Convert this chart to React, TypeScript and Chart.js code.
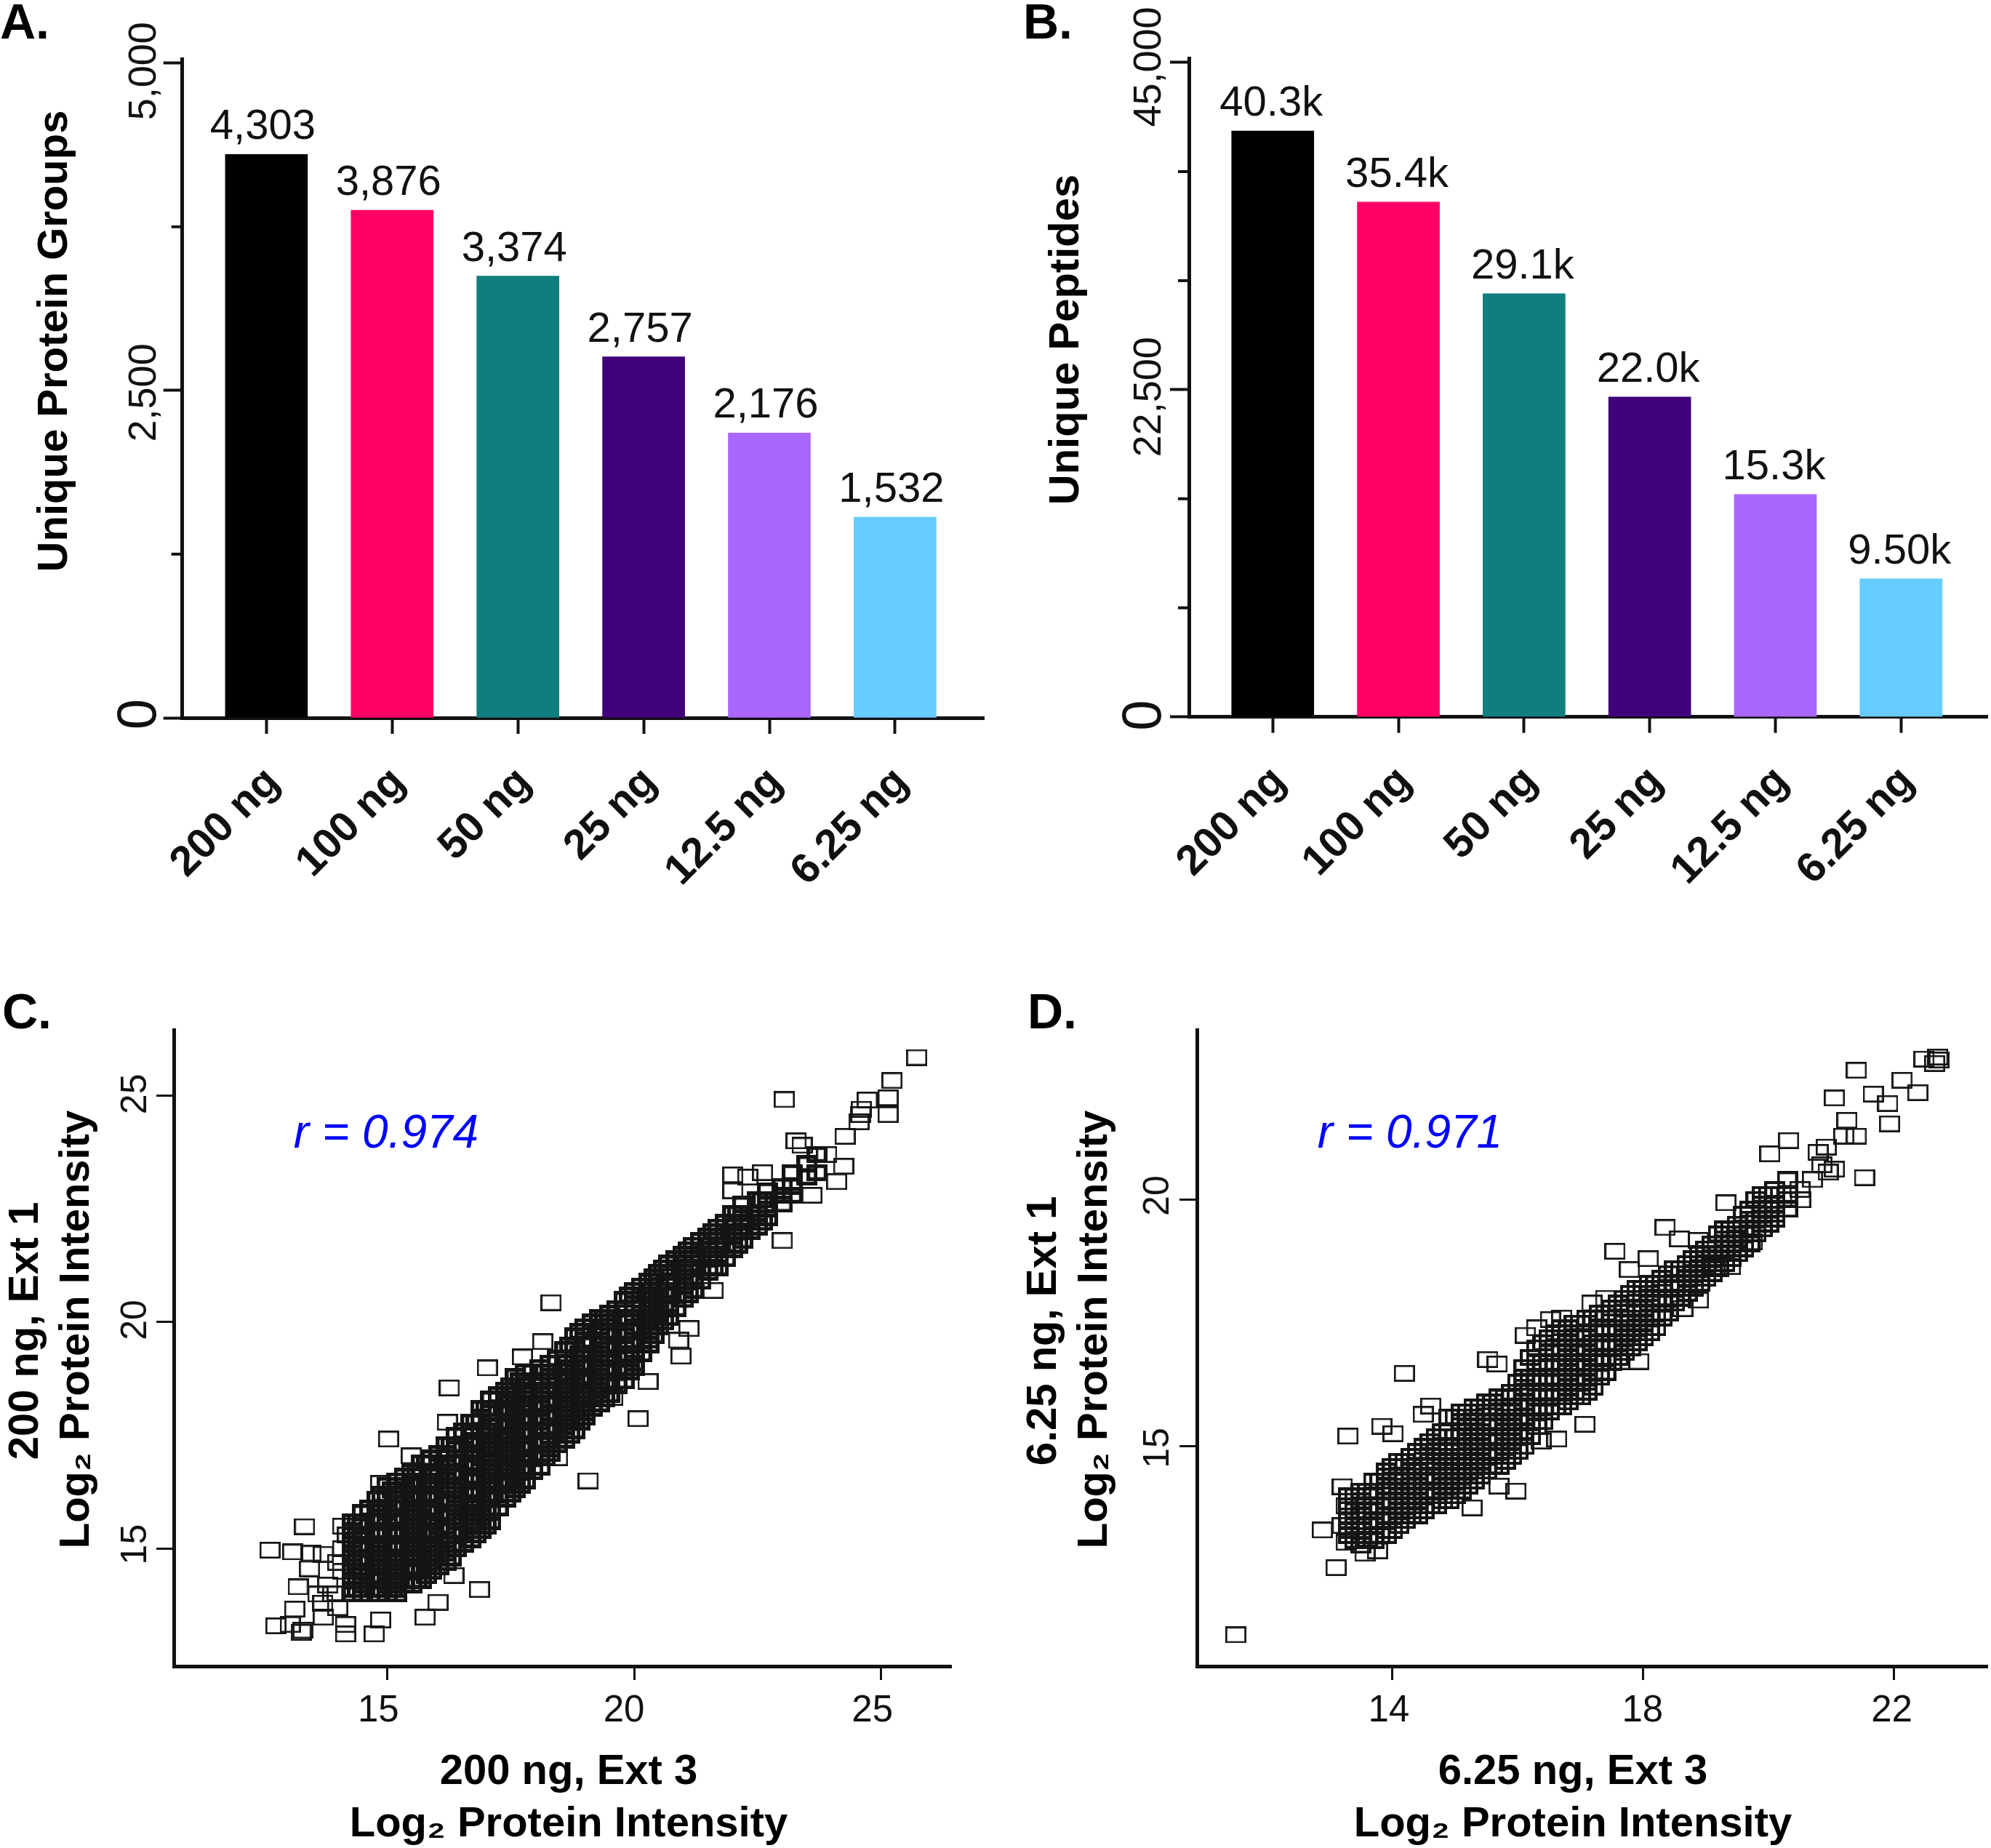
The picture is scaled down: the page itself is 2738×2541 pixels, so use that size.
import React, { useEffect, useRef } from "react";
import { Chart, registerables } from "chart.js";

Chart.register(...registerables);

const FONT = '"Liberation Sans"';
const INK = "#111111";

const doseLabels = ["200 ng", "100 ng", "50 ng", "25 ng", "12.5 ng", "6.25 ng"];
const doseColors = ["#000000", "#ff0066", "#107e7e", "#400078", "#aa66ff", "#66ccff"];

const proteinGroups = [4303, 3876, 3374, 2757, 2176, 1532];
const proteinGroupLabels = ["4,303", "3,876", "3,374", "2,757", "2,176", "1,532"];
const proteinTicks = [0, 2500, 5000];
const proteinMinorTicks = [1250, 3750];

const peptides = [40300, 35400, 29100, 22000, 15300, 9500];
const peptideLabels = ["40.3k", "35.4k", "29.1k", "22.0k", "15.3k", "9.50k"];
const peptideTicks = [0, 22500, 45000];
const peptideMinorTicks = [7500, 15000, 30000, 37500];

const cXTicks = [15, 20, 25];
const cYTicks = [15, 20, 25];
const dXTicks = [14, 18, 22];
const dYTicks = [15, 20];

// Panel C: isolated squares read one by one
const cOutliers: [number, number][] = [
  [25.72, 25.84], [25.22, 25.33], [23.04, 24.91], [25.14, 24.95], [25.14, 24.58], [24.72, 24.9], [24.59, 24.58],
  [24.55, 24.42], [24.27, 24.1], [23.28, 24.0], [24.24, 23.44], [24.6, 24.7], [23.4, 23.9], [23.9, 23.7],
  [12.63, 14.97], [13.09, 14.93], [13.33, 15.49], [13.46, 14.9], [13.71, 14.88], [13.43, 14.56], [13.2, 14.16],
  [13.13, 13.67], [12.75, 13.3], [13.04, 13.33], [13.26, 13.16], [14.16, 13.12], [14.74, 13.12], [14.87, 13.43],
  [14.16, 13.33], [13.71, 13.49], [15.77, 13.49], [16.03, 13.82], [16.87, 14.1], [16.35, 14.41], [13.3, 13.2],
  [15.03, 17.42], [15.49, 17.05], [16.26, 18.55], [17.03, 18.99], [18.32, 20.43], [18.15, 19.57], [17.74, 19.23],
  [16.22, 17.79], [14.87, 16.44], [19.07, 16.5], [20.08, 17.87], [20.95, 19.25], [21.11, 19.86], [20.28, 18.69],
  [18.45, 17.01], [19.57, 18.34], [23.0, 21.8], [22.0, 23.25], [22.3, 23.2], [22.6, 23.3], [22.0, 22.9],
  [13.6, 14.0], [13.7, 13.8], [13.9, 14.0], [13.8, 14.2], [14.0, 13.7], [14.1, 14.5], [14.1, 15.0], [14.0, 14.7],
  [14.2, 15.3], [14.1, 15.5], [20.9, 19.6], [21.6, 20.7], [23.6, 22.8], [24.1, 23.1],
];

// Panel C: the solid band, where single squares cannot be told apart, estimated per column
const cBand: [number, number[]][] = [
  [14.3, [14.0, 14.1, 14.3, 14.5, 14.6, 14.8, 14.9, 15.1, 15.2, 15.4, 15.6]],
  [14.5, [14.0, 14.2, 14.3, 14.5, 14.7, 14.8, 15.0, 15.1, 15.3, 15.5, 15.6, 15.8]],
  [14.8, [14.0, 14.1, 14.3, 14.4, 14.6, 14.8, 14.9, 15.1, 15.3, 15.4, 15.6, 15.7, 15.9, 16.1]],
  [15.0, [14.0, 14.2, 14.3, 14.5, 14.7, 14.8, 15.0, 15.1, 15.3, 15.4, 15.6, 15.8, 15.9, 16.1, 16.2, 16.4]],
  [15.2, [14.0, 14.1, 14.3, 14.5, 14.6, 14.8, 15.0, 15.1, 15.3, 15.4, 15.6, 15.7, 15.9, 16.0, 16.2, 16.4, 16.5]],
  [15.5, [14.2, 14.3, 14.5, 14.6, 14.8, 15.0, 15.1, 15.3, 15.4, 15.6, 15.8, 15.9, 16.1, 16.2, 16.4, 16.5, 16.7]],
  [15.7, [14.3, 14.5, 14.6, 14.8, 14.9, 15.1, 15.3, 15.4, 15.6, 15.7, 15.9, 16.1, 16.2, 16.4, 16.5, 16.7, 16.9]],
  [15.9, [14.5, 14.6, 14.8, 15.0, 15.1, 15.3, 15.4, 15.6, 15.8, 15.9, 16.1, 16.2, 16.4, 16.6, 16.7, 16.9, 17.0]],
  [16.2, [14.7, 14.9, 15.0, 15.2, 15.4, 15.5, 15.7, 15.8, 16.0, 16.1, 16.3, 16.5, 16.6, 16.8, 16.9, 17.1, 17.3]],
  [16.4, [15.0, 15.1, 15.3, 15.4, 15.6, 15.8, 15.9, 16.1, 16.2, 16.4, 16.6, 16.7, 16.9, 17.0, 17.2, 17.3, 17.5]],
  [16.7, [15.2, 15.3, 15.5, 15.7, 15.8, 16.0, 16.2, 16.3, 16.5, 16.6, 16.8, 16.9, 17.1, 17.3, 17.4, 17.6, 17.8]],
  [16.9, [15.4, 15.5, 15.7, 15.8, 16.0, 16.2, 16.3, 16.5, 16.6, 16.8, 17.0, 17.1, 17.3, 17.4, 17.6, 17.8, 17.9, 18.1]],
  [17.1, [15.6, 15.8, 15.9, 16.1, 16.2, 16.4, 16.6, 16.7, 16.9, 17.0, 17.2, 17.4, 17.5, 17.7, 17.8, 18.0, 18.1, 18.3]],
  [17.4, [16.1, 16.2, 16.4, 16.5, 16.7, 16.9, 17.0, 17.2, 17.3, 17.5, 17.7, 17.8, 18.0, 18.1, 18.3, 18.5]],
  [17.6, [16.3, 16.4, 16.6, 16.8, 16.9, 17.1, 17.2, 17.4, 17.6, 17.7, 17.9, 18.0, 18.2, 18.4, 18.5, 18.8]],
  [17.8, [16.5, 16.7, 16.8, 17.0, 17.2, 17.3, 17.5, 17.6, 17.8, 17.9, 18.1, 18.3, 18.4, 18.6, 18.7, 18.9]],
  [18.1, [16.8, 17.0, 17.1, 17.3, 17.4, 17.6, 17.8, 17.9, 18.1, 18.2, 18.4, 18.6, 18.7, 19.0]],
  [18.3, [17.1, 17.2, 17.4, 17.6, 17.7, 17.9, 18.0, 18.2, 18.3, 18.5, 18.7, 18.8, 19.1]],
  [18.6, [17.4, 17.5, 17.7, 17.8, 18.0, 18.2, 18.3, 18.5, 18.6, 18.8, 19.0, 19.1, 19.4]],
  [18.8, [17.6, 17.8, 17.9, 18.1, 18.2, 18.4, 18.6, 18.7, 18.9, 19.0, 19.2, 19.4, 19.5, 19.7]],
  [19.0, [17.9, 18.0, 18.2, 18.3, 18.5, 18.7, 18.8, 19.0, 19.1, 19.3, 19.5, 19.6, 19.9]],
  [19.3, [18.2, 18.3, 18.5, 18.7, 18.8, 19.0, 19.1, 19.3, 19.4, 19.6, 19.8, 19.9, 20.1]],
  [19.5, [18.4, 18.6, 18.7, 18.9, 19.0, 19.2, 19.4, 19.5, 19.7, 19.8, 20.0, 20.2]],
  [19.8, [18.7, 18.9, 19.0, 19.2, 19.3, 19.5, 19.7, 19.8, 20.0, 20.1, 20.3, 20.5]],
  [20.0, [19.0, 19.1, 19.3, 19.5, 19.6, 19.8, 19.9, 20.1, 20.3, 20.4, 20.7]],
  [20.3, [19.5, 19.6, 19.8, 20.0, 20.1, 20.3, 20.4, 20.6, 20.7, 20.9]],
  [20.5, [19.9, 20.0, 20.2, 20.3, 20.5, 20.7, 20.8, 21.1]],
  [20.7, [20.1, 20.3, 20.4, 20.6, 20.7, 20.9, 21.1, 21.3]],
  [21.0, [20.5, 20.6, 20.8, 21.0, 21.1, 21.3, 21.5]],
  [21.2, [20.7, 20.9, 21.0, 21.2, 21.4, 21.5, 21.7]],
  [21.5, [21.1, 21.2, 21.4, 21.6, 21.7, 21.9]],
  [21.7, [21.2, 21.4, 21.6, 21.7, 21.9, 22.1]],
  [22.0, [21.6, 21.7, 21.9, 22.1, 22.2, 22.4]],
  [22.2, [21.8, 22.0, 22.2, 22.3, 22.6]],
  [22.5, [22.1, 22.3, 22.4, 22.7]],
  [22.7, [22.3, 22.5, 22.6, 22.9]],
  [23.0, [22.6, 22.8, 23.0]],
  [23.2, [22.8, 23.0, 23.3]],
  [23.5, [23.2, 23.5]],
  [23.7, [23.3, 23.7]],
  [14.4, [14.1, 14.4, 14.7, 15.0, 15.3, 15.6]],
  [14.65, [14.1, 14.4, 14.7, 15.0, 15.3, 15.6, 15.9]],
  [14.9, [14.1, 14.4, 14.7, 15.0, 15.3, 15.6, 15.9, 16.2]],
  [15.1, [14.1, 14.4, 14.7, 15.0, 15.3, 15.6, 15.9, 16.3]],
  [15.35, [14.2, 14.5, 14.8, 15.1, 15.4, 15.7, 16.0, 16.3, 16.6]],
  [15.6, [14.3, 14.6, 14.9, 15.2, 15.5, 15.8, 16.1, 16.4, 16.7]],
  [15.8, [14.4, 14.7, 15.0, 15.3, 15.6, 15.9, 16.2, 16.5, 16.9]],
  [16.05, [14.6, 14.9, 15.2, 15.5, 15.8, 16.1, 16.4, 16.7, 17.1]],
  [16.3, [14.8, 15.1, 15.4, 15.7, 16.0, 16.3, 16.6, 16.9, 17.3]],
  [16.55, [15.1, 15.4, 15.7, 16.0, 16.3, 16.6, 16.9, 17.2, 17.6]],
  [16.8, [15.3, 15.6, 15.9, 16.2, 16.5, 16.8, 17.1, 17.4, 17.8]],
  [17.0, [15.5, 15.8, 16.1, 16.4, 16.7, 17.0, 17.3, 17.6, 18.1]],
  [17.25, [15.9, 16.2, 16.5, 16.8, 17.1, 17.4, 17.7, 18.0, 18.4]],
  [17.5, [16.2, 16.5, 16.8, 17.1, 17.4, 17.7, 18.0, 18.3, 18.6]],
  [17.7, [16.4, 16.7, 17.0, 17.3, 17.6, 17.9, 18.2, 18.7]],
  [17.95, [16.7, 17.0, 17.3, 17.6, 17.9, 18.2, 18.5, 18.9]],
  [18.2, [17.0, 17.3, 17.6, 17.9, 18.2, 18.5, 18.9]],
  [18.45, [17.3, 17.6, 17.9, 18.2, 18.5, 18.8, 19.2]],
  [18.7, [17.5, 17.8, 18.1, 18.4, 18.7, 19.0, 19.5]],
  [18.9, [17.8, 18.1, 18.4, 18.7, 19.0, 19.3, 19.8]],
  [19.15, [18.1, 18.4, 18.7, 19.0, 19.3, 19.6, 20.0]],
  [19.4, [18.3, 18.6, 18.9, 19.2, 19.5, 19.8, 20.1]],
  [19.65, [18.6, 18.9, 19.2, 19.5, 19.8, 20.3]],
  [19.9, [18.9, 19.2, 19.5, 19.8, 20.1, 20.6]],
  [20.15, [19.3, 19.6, 19.9, 20.2, 20.8]],
  [20.4, [19.7, 20.0, 20.3, 20.6, 21.0]],
  [20.6, [20.0, 20.3, 20.6, 21.2]],
  [20.85, [20.3, 20.6, 20.9, 21.4]],
  [21.1, [20.6, 20.9, 21.2, 21.6]],
  [21.35, [20.9, 21.2, 21.5, 21.8]],
  [21.6, [21.2, 21.5, 22.0]],
  [21.85, [21.4, 21.7, 22.2]],
  [22.1, [21.7, 22.0, 22.4]],
  [22.35, [22.0, 22.4]],
  [22.6, [22.2, 22.7]],
];

// Panel D: isolated squares read one by one
const dOutliers: [number, number][] = [
  [11.5, 11.19], [13.1, 12.55], [12.88, 13.31], [13.29, 15.21], [14.19, 16.48], [13.83, 15.41], [14.01, 15.26],
  [13.2, 14.19], [13.26, 13.8], [13.2, 13.4], [13.26, 13.06], [13.56, 12.84], [13.76, 12.89], [15.97, 14.1],
  [15.27, 13.76], [17.07, 15.45], [16.62, 15.15], [16.37, 15.11], [14.49, 15.65], [14.61, 15.82], [15.52, 16.76],
  [15.67, 16.67], [16.12, 17.25], [16.52, 17.57], [17.18, 17.9], [17.55, 18.95], [18.08, 18.8], [17.78, 18.58],
  [18.35, 19.43], [18.58, 19.2], [18.88, 19.17], [19.32, 19.93], [18.88, 17.96], [18.63, 17.79], [17.93, 16.72],
  [17.63, 16.72], [19.14, 18.64], [19.39, 18.64], [19.74, 19.14], [20.02, 20.92], [20.32, 21.19], [20.79, 20.95],
  [20.92, 21.06], [21.05, 20.61], [21.53, 20.44], [20.51, 19.99], [20.85, 20.7], [20.95, 20.55], [21.25, 21.6],
  [21.4, 21.28], [21.2, 21.28], [21.05, 22.05], [21.4, 22.61], [21.67, 22.13], [21.9, 21.94], [21.93, 21.53],
  [22.13, 22.41], [22.38, 22.16], [22.48, 22.84], [22.7, 22.88], [22.65, 22.75], [22.72, 22.82], [20.5, 20.2],
  [20.7, 20.4], [16.0, 15.0], [15.7, 14.2], [16.3, 17.4], [16.7, 17.6], [17.4, 18.0],
];

// Panel D: the solid band, where single squares cannot be told apart, estimated per column
const dBand: [number, number[]][] = [
  [13.3, [13.2, 13.3, 13.5, 13.6, 13.8, 14.0]],
  [13.5, [13.0, 13.2, 13.3, 13.4, 13.6, 13.8, 13.9, 14.1]],
  [13.7, [13.1, 13.2, 13.4, 13.5, 13.7, 13.8, 14.0, 14.1, 14.3]],
  [13.9, [13.2, 13.3, 13.5, 13.6, 13.8, 13.9, 14.1, 14.2, 14.4, 14.5]],
  [14.1, [13.4, 13.5, 13.7, 13.8, 14.0, 14.1, 14.3, 14.4, 14.6, 14.7]],
  [14.3, [13.6, 13.7, 13.9, 14.0, 14.2, 14.3, 14.5, 14.6, 14.8]],
  [14.5, [13.7, 13.8, 14.0, 14.1, 14.3, 14.4, 14.6, 14.8, 15.0]],
  [14.7, [13.8, 14.0, 14.1, 14.3, 14.4, 14.6, 14.7, 14.9, 15.0, 15.2]],
  [14.9, [13.9, 14.1, 14.2, 14.4, 14.5, 14.7, 14.8, 15.0, 15.2, 15.3, 15.6]],
  [15.1, [14.1, 14.2, 14.4, 14.5, 14.7, 14.9, 15.0, 15.2, 15.3, 15.5, 15.7]],
  [15.3, [14.3, 14.4, 14.6, 14.7, 14.9, 15.0, 15.2, 15.3, 15.5, 15.6, 15.8]],
  [15.5, [14.5, 14.6, 14.8, 14.9, 15.1, 15.2, 15.4, 15.5, 15.7, 15.9]],
  [15.7, [14.6, 14.8, 14.9, 15.1, 15.2, 15.4, 15.5, 15.7, 15.8, 16.0]],
  [15.9, [14.8, 14.9, 15.1, 15.2, 15.4, 15.5, 15.7, 15.8, 16.0, 16.1]],
  [16.1, [15.0, 15.2, 15.3, 15.5, 15.6, 15.8, 15.9, 16.1, 16.2, 16.4, 16.6]],
  [16.3, [15.4, 15.5, 15.7, 15.8, 16.0, 16.1, 16.3, 16.4, 16.6, 16.7, 17.0]],
  [16.5, [15.7, 15.8, 16.0, 16.1, 16.3, 16.4, 16.6, 16.7, 16.9, 17.0, 17.2]],
  [16.7, [15.8, 16.0, 16.1, 16.3, 16.4, 16.6, 16.7, 16.9, 17.0, 17.2, 17.4]],
  [16.9, [16.0, 16.1, 16.3, 16.4, 16.6, 16.7, 16.9, 17.0, 17.2, 17.3, 17.5]],
  [17.1, [16.1, 16.3, 16.4, 16.6, 16.7, 16.9, 17.0, 17.2, 17.3, 17.5, 17.6]],
  [17.3, [16.4, 16.5, 16.7, 16.8, 17.0, 17.1, 17.3, 17.4, 17.6, 17.7]],
  [17.5, [16.7, 16.8, 17.0, 17.1, 17.3, 17.4, 17.6, 17.8]],
  [17.7, [16.9, 17.0, 17.2, 17.3, 17.5, 17.6, 17.8, 18.0]],
  [17.9, [17.1, 17.2, 17.4, 17.5, 17.7, 17.8, 18.0, 18.2]],
  [18.1, [17.3, 17.4, 17.6, 17.7, 17.9, 18.1, 18.3]],
  [18.3, [17.6, 17.7, 17.9, 18.0, 18.2, 18.4]],
  [18.5, [17.9, 18.0, 18.2, 18.3, 18.6]],
  [18.7, [18.1, 18.2, 18.4, 18.5, 18.7]],
  [18.9, [18.3, 18.4, 18.6, 18.7, 18.9]],
  [19.1, [18.5, 18.6, 18.8, 18.9, 19.1]],
  [19.3, [18.7, 18.8, 19.0, 19.2, 19.4]],
  [19.5, [18.9, 19.0, 19.2, 19.3, 19.5]],
  [19.7, [19.1, 19.3, 19.4, 19.6, 19.8]],
  [19.9, [19.4, 19.5, 19.7, 19.9, 20.1]],
  [20.1, [19.6, 19.7, 19.9, 20.2]],
  [20.3, [19.8, 20.0, 20.1, 20.4]],
  [13.4, [13.1, 13.4, 13.7, 14.0]],
  [13.6, [13.1, 13.4, 13.7, 14.1]],
  [13.8, [13.2, 13.5, 13.8, 14.3]],
  [14.0, [13.3, 13.6, 13.9, 14.2, 14.6]],
  [14.2, [13.5, 13.8, 14.1, 14.4, 14.7]],
  [14.4, [13.6, 13.9, 14.2, 14.5, 14.9]],
  [14.6, [13.8, 14.1, 14.4, 14.7, 15.1]],
  [14.8, [13.9, 14.2, 14.5, 14.8, 15.3]],
  [15.0, [14.0, 14.3, 14.6, 14.9, 15.2, 15.6]],
  [15.2, [14.2, 14.5, 14.8, 15.1, 15.4, 15.7]],
  [15.4, [14.4, 14.7, 15.0, 15.3, 15.8]],
  [15.6, [14.6, 14.9, 15.2, 15.5, 15.9]],
  [15.8, [14.7, 15.0, 15.3, 15.6, 16.0]],
  [16.0, [14.9, 15.2, 15.5, 15.8, 16.3]],
  [16.2, [15.2, 15.5, 15.8, 16.1, 16.4, 16.8]],
  [16.4, [15.5, 15.8, 16.1, 16.4, 16.7, 17.1]],
  [16.6, [15.8, 16.1, 16.4, 16.7, 17.3]],
  [16.8, [15.9, 16.2, 16.5, 16.8, 17.1, 17.4]],
  [17.0, [16.0, 16.3, 16.6, 16.9, 17.2, 17.5]],
  [17.2, [16.2, 16.5, 16.8, 17.1, 17.6]],
  [17.4, [16.5, 16.8, 17.1, 17.4, 17.7]],
  [17.6, [16.8, 17.1, 17.4, 17.9]],
  [17.8, [17.0, 17.3, 17.6, 18.1]],
  [18.0, [17.2, 17.5, 17.8, 18.2]],
  [18.2, [17.4, 17.7, 18.0, 18.3]],
  [18.4, [17.7, 18.0, 18.5]],
  [18.6, [18.0, 18.3, 18.6]],
  [18.8, [18.2, 18.5, 18.8]],
  [19.0, [18.4, 18.7, 19.0]],
  [19.2, [18.6, 18.9, 19.3]],
  [19.4, [18.8, 19.1, 19.4]],
  [19.6, [19.0, 19.3, 19.7]],
  [19.8, [19.3, 19.6, 20.0]],
  [20.0, [19.5, 19.8, 20.1]],
];

type Box = { x: number; y: number; w: number; h: number };
type Area = { left: number; right: number; top: number; bottom: number };
type Txt = { t: string; x: number; y: number; size: number; bold?: boolean; italic?: boolean; color?: string; rot?: boolean; left?: boolean };
type YLabel = { text: string; size: number; dy: number };

const text = (t: string, x: number, y: number, size: number, extra: Partial<Txt> = {}): Txt => ({ t, x, y, size, ...extra });

function panelPlugin(box: Box, texts: Txt[], yLabels: YLabel[], baselineX: number, minor: number[], xLabels?: { text: string; dx: number; baseline: number; size: number }[], barLabels?: string[], barDx = 0) {
  return {
    id: "panelPlugin",
    afterDraw(chart: any) {
      const ctx = chart.ctx;
      const yScale = chart.scales.y;
      const xScale = chart.scales.x;
      ctx.save();
      ctx.fillStyle = INK;
      ctx.translate(-box.x, -box.y);
      const ox = box.x;
      const oy = box.y;
      ctx.strokeStyle = INK;
      ctx.lineWidth = 4;
      minor.forEach((v) => {
        const py = yScale.getPixelForValue(v) + oy;
        ctx.beginPath();
        ctx.moveTo(chart.chartArea.left + ox, py);
        ctx.lineTo(chart.chartArea.left + ox - 15, py);
        ctx.stroke();
      });
      yScale.ticks.forEach((tick: any, i: number) => {
        const l = yLabels[i];
        ctx.save();
        ctx.translate(baselineX, yScale.getPixelForValue(tick.value) + oy + l.dy);
        ctx.rotate(-Math.PI / 2);
        ctx.font = `${l.size}px ${FONT}`;
        ctx.textAlign = "center";
        ctx.textBaseline = "alphabetic";
        ctx.fillText(l.text, 0, 0);
        ctx.restore();
      });
      if (xLabels) {
        xScale.ticks.forEach((tick: any, i: number) => {
          const l = xLabels[i];
          ctx.font = `${l.size}px ${FONT}`;
          ctx.textAlign = "center";
          ctx.textBaseline = "alphabetic";
          ctx.fillText(l.text, xScale.getPixelForValue(tick.value) + ox + l.dx, l.baseline);
        });
      }
      if (barLabels) {
        const meta = chart.getDatasetMeta(0);
        ctx.font = `58px ${FONT}`;
        ctx.textAlign = "center";
        ctx.textBaseline = "alphabetic";
        barLabels.forEach((s, i) => {
          const el = meta.data[i];
          ctx.fillText(s, el.x + ox + barDx, el.y + oy - 21);
        });
      }
      texts.forEach((d) => {
        ctx.save();
        ctx.fillStyle = d.color || "#000";
        ctx.font = `${d.italic ? "italic " : ""}${d.bold ? "bold " : ""}${d.size}px ${FONT}`;
        ctx.textBaseline = "alphabetic";
        ctx.textAlign = d.left ? "left" : "center";
        ctx.translate(d.x, d.y);
        if (d.rot) ctx.rotate(-Math.PI / 2);
        ctx.fillText(d.t, 0, 0);
        ctx.restore();
      });
      ctx.restore();
    },
  };
}

function padding(box: Box, a: Area, xHeight: number) {
  return { left: a.left - box.x, top: a.top - box.y, right: box.x + box.w - a.right, bottom: box.y + box.h - a.bottom - xHeight };
}

function baseScales(a: { xMin: number; xMax: number; yMin: number; yMax: number; xTicks: number[]; yTicks: number[]; xTickLen: number; yTickLen: number; tickWidth: number; borderWidth: number; xHeight: number; xTickOpts?: any }) {
  return {
    x: {
      type: "linear",
      offset: false,
      min: a.xMin,
      max: a.xMax,
      afterBuildTicks: (s: any) => { s.ticks = a.xTicks.map((value) => ({ value })); },
      afterFit: (s: any) => { s.height = a.xHeight; },
      grid: { display: true, offset: false, drawOnChartArea: false, drawTicks: true, tickLength: a.xTickLen, tickWidth: a.tickWidth, tickColor: INK },
      border: { display: true, color: INK, width: a.borderWidth },
      ticks: a.xTickOpts || { display: false },
    },
    y: {
      type: "linear",
      min: a.yMin,
      max: a.yMax,
      afterBuildTicks: (s: any) => { s.ticks = a.yTicks.map((value) => ({ value })); },
      afterFit: (s: any) => { s.width = 0; },
      grid: { display: true, drawOnChartArea: false, drawTicks: true, tickLength: a.yTickLen, tickWidth: a.tickWidth, tickColor: INK },
      border: { display: true, color: INK, width: a.borderWidth },
      ticks: { display: false },
    },
  };
}

function barConfig(box: Box, area: Area, values: number[], xMin: number, xMax: number, yMax: number, yTicks: number[], minor: number[], yLabels: YLabel[], baselineX: number, barLabels: string[], barDx: number, texts: Txt[]) {
  const xHeight = box.y + box.h - area.bottom;
  return {
    type: "bar",
    data: {
      labels: doseLabels,
      datasets: [{
        data: values.map((y, x) => ({ x, y })),
        backgroundColor: doseColors,
        borderWidth: 0,
        barThickness: 113,
      }],
    },
    options: {
      animation: false,
      responsive: false,
      layout: { padding: padding(box, area, xHeight), autoPadding: false },
      plugins: { legend: { display: false }, tooltip: { enabled: false }, title: { display: false } },
      scales: baseScales({
        xMin, xMax, yMin: 0, yMax, xTicks: values.map((_, i) => i), yTicks, xTickLen: 22, yTickLen: 26, tickWidth: 4, borderWidth: 5, xHeight,
        xTickOpts: {
          display: true,
          autoSkip: false,
          minRotation: 45,
          maxRotation: 45,
          padding: 33,
          labelOffset: 9,
          color: INK,
          font: { family: FONT, weight: "bold", size: 58 },
          callback: (v: number) => doseLabels[v],
        },
      }),
    },
    plugins: [panelPlugin(box, texts, yLabels, baselineX, minor, undefined, barLabels, barDx)],
  };
}

function markerImage(lineWidth: number) {
  const c = document.createElement("canvas");
  c.width = 29;
  c.height = 23;
  const g = c.getContext("2d")!;
  g.strokeStyle = "#141414";
  g.lineWidth = lineWidth;
  g.strokeRect(lineWidth / 2, lineWidth / 2, 29 - lineWidth, 23 - lineWidth);
  return c;
}

function scatterConfig(box: Box, area: Area, outliers: [number, number][], band: [number, number[]][], bandLine: number, xMin: number, xMax: number, yMin: number, yMax: number, xTicks: number[], yTicks: number[], yLabels: YLabel[], baselineX: number, xLabels: any[], texts: Txt[]) {
  return {
    type: "scatter",
    data: {
      datasets: [
        {
          data: band.flatMap(([x, ys]) => ys.map((y) => ({ x, y }))),
          pointStyle: markerImage(bandLine),
          pointRadius: 8,
          showLine: false,
          clip: false,
        },
        {
          data: outliers.map(([x, y]) => ({ x, y })),
          pointStyle: markerImage(2.7),
          pointRadius: 8,
          showLine: false,
          clip: false,
        },
      ],
    },
    options: {
      animation: false,
      responsive: false,
      layout: { padding: padding(box, area, 0), autoPadding: false },
      plugins: { legend: { display: false }, tooltip: { enabled: false }, title: { display: false } },
      scales: baseScales({ xMin, xMax, yMin, yMax, xTicks, yTicks, xTickLen: 19, yTickLen: 24, tickWidth: 3, borderWidth: 5, xHeight: 0 }),
    },
    plugins: [panelPlugin(box, texts, yLabels, baselineX, [], xLabels)],
  };
}

const boxA: Box = { x: 0, y: 0, w: 1380, h: 1300 };
const boxB: Box = { x: 1380, y: 0, w: 1358, h: 1300 };
const boxC: Box = { x: 0, y: 1320, w: 1369, h: 1221 };
const boxD: Box = { x: 1369, y: 1320, w: 1369, h: 1221 };

const configs = () => [
  barConfig(boxA, { left: 250.7, right: 1353, top: 81, bottom: 987 }, proteinGroups, -0.669, 5.706, 5032, proteinTicks, proteinMinorTicks,
    [{ text: "0", size: 76, dy: -5 }, { text: "2,500", size: 54, dy: 3 }, { text: "5,000", size: 54, dy: 11 }], 214, proteinGroupLabels, -5,
    [text("A.", 0, 53, 68, { bold: true, left: true }), text("Unique Protein Groups", 92, 469, 58, { bold: true, rot: true })]),
  barConfig(boxB, { left: 1635, right: 2733, top: 80, bottom: 985.7 }, peptides, -0.667, 5.687, 45300, peptideTicks, peptideMinorTicks,
    [{ text: "0", size: 76, dy: -2 }, { text: "22,500", size: 54, dy: 10 }, { text: "45,000", size: 54, dy: 6 }], 1596, peptideLabels, -2,
    [text("B.", 1407, 53, 68, { bold: true, left: true }), text("Unique Peptides", 1483, 467, 58, { bold: true, rot: true })]),
  scatterConfig(boxC, { left: 239, right: 1308, top: 1416, bottom: 2291 }, cOutliers, cBand, 5.2, 10.683, 26.417, 12.41, 26.45, cXTicks, cYTicks,
    [{ text: "15", size: 50, dy: -6 }, { text: "20", size: 50, dy: -3 }, { text: "25", size: 50, dy: -2 }], 201,
    [{ text: "15", dx: -12, baseline: 2367, size: 51 }, { text: "20", dx: -14, baseline: 2367, size: 51 }, { text: "25", dx: -12, baseline: 2367, size: 51 }],
    [text("C.", 3, 1414, 68, { bold: true, left: true }),
      text("200 ng, Ext 1", 52, 1830, 58, { bold: true, rot: true }), text("Log₂ Protein Intensity", 122, 1828, 58, { bold: true, rot: true }),
      text("200 ng, Ext 3", 782, 2453, 58, { bold: true }), text("Log₂ Protein Intensity", 782, 2525, 58, { bold: true }),
      text("r = 0.974", 531, 1578, 64, { italic: true, color: "#0000ff" })]),
  scatterConfig(boxD, { left: 1646, right: 2733, top: 1416, bottom: 2291 }, dOutliers, dBand, 4, 10.88, 23.49, 10.556, 23.43, dXTicks, dYTicks,
    [{ text: "15", size: 50, dy: 2 }, { text: "20", size: 50, dy: -5 }], 1607,
    [{ text: "14", dx: -5, baseline: 2367, size: 51 }, { text: "18", dx: -1, baseline: 2367, size: 51 }, { text: "22", dx: -3, baseline: 2367, size: 51 }],
    [text("D.", 1413, 1414, 68, { bold: true, left: true }),
      text("6.25 ng, Ext 1", 1452, 1830, 58, { bold: true, rot: true }), text("Log₂ Protein Intensity", 1522, 1828, 58, { bold: true, rot: true }),
      text("6.25 ng, Ext 3", 2163, 2453, 58, { bold: true }), text("Log₂ Protein Intensity", 2163, 2525, 58, { bold: true }),
      text("r = 0.971", 1939, 1578, 64, { italic: true, color: "#0000ff" })]),
];

const boxes = [boxA, boxB, boxC, boxD];

export default function App() {
  const refs = useRef<(HTMLCanvasElement | null)[]>([]);
  useEffect(() => {
    const charts = configs().map((cfg, i) => new Chart(refs.current[i] as HTMLCanvasElement, cfg as any));
    return () => charts.forEach((c) => c.destroy());
  }, []);
  return (
    <div style={{ position: "absolute", left: 0, top: 0, width: 2738, height: 2541, background: "#fff", overflow: "hidden" }}>
      {boxes.map((b, i) => (
        <canvas
          key={i}
          ref={(el) => { refs.current[i] = el; }}
          width={b.w}
          height={b.h}
          style={{ position: "absolute", left: b.x, top: b.y, width: b.w, height: b.h, filter: "blur(0.7px)" }}
        />
      ))}
    </div>
  );
}
